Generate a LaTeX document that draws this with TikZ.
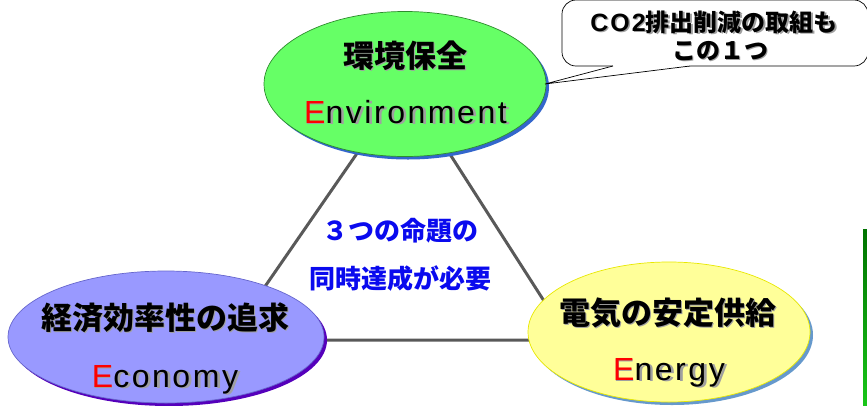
\documentclass[tikz,border=0pt]{standalone}
\usepackage{fontspec}
\setmainfont{Liberation Sans}
\newfontfamily\jp{Noto Sans CJK JP}
\newfontfamily\latb{Liberation Sans}[UprightFont=*-Bold,LetterSpace=8]
\newfontfamily\lat{Liberation Sans}[LetterSpace=8]
\usetikzlibrary{shapes.geometric,shadows}
\definecolor{envfill}{HTML}{66FF66}
\definecolor{envline}{HTML}{2E8B2E}
\definecolor{envsh}{HTML}{3366CC}
\definecolor{ecofill}{HTML}{9999FF}
\definecolor{ecoline}{HTML}{6666CC}
\definecolor{ecosh}{HTML}{5500BB}
\definecolor{enefill}{HTML}{FFFF99}
\definecolor{eneline}{HTML}{E8E800}
\definecolor{enesh}{HTML}{6699CC}
\definecolor{triline}{HTML}{595959}
\definecolor{shgray}{HTML}{A0A0A0}
\definecolor{bluetxt}{HTML}{0A0AEE}
\newif\ifshd
\newcommand\RE{\ifshd E\else\textcolor{red}{E}\fi}
\newcommand\stext[4]{%
  \node[#3,text=shgray] (#1-s) at ([shift={(1.4,1.4)}]#2) {\shdtrue#4};
  \node[#3] (#1) at (#2) {#4};}
\tikzset{
  ell/.style={ellipse, inner sep=0pt, line width=0.7pt},
  jptext/.style={anchor=base, inner sep=0pt, font=\jp\bfseries\fontsize{31}{36}\selectfont},
  latext/.style={anchor=base, inner sep=0pt, font=\lat\fontsize{32}{36}\selectfont},
  bluetext/.style={anchor=base, inner sep=0pt, text=bluetxt, font=\jp\bfseries\fontsize{26}{30}\selectfont},
  calltext/.style={anchor=base, inner sep=0pt, font=\jp\bfseries\fontsize{24}{28}\selectfont},
  triedge/.style={draw=triline, line width=3pt},
}
\begin{document}
\begin{tikzpicture}[x=1pt,y=-1pt]
\useasboundingbox (0,0) rectangle (867,405);
% triangle
\coordinate (t) at (405,84);
\coordinate (bl) at (228,340);
\coordinate (br) at (569,340);
\draw[triedge] (t) -- (bl) -- (br) -- cycle;
% ellipses
\node[ell, draw=envline, fill=envfill, minimum width=282pt, minimum height=145pt,
  drop shadow={shadow xshift=3pt, shadow yshift=-3pt, fill=envsh, opacity=1}] (env) at (405,84) {};
\node[ell, draw=ecoline, fill=ecofill, minimum width=316pt, minimum height=132pt,
  drop shadow={shadow xshift=3pt, shadow yshift=-3pt, fill=ecosh, opacity=1}] (eco) at (166,337) {};
\node[ell, draw=eneline, fill=enefill, minimum width=282pt, minimum height=140pt,
  drop shadow={shadow xshift=3pt, shadow yshift=-3pt, fill=enesh, opacity=1}] (ene) at (669,332) {};
% texts
\stext{envj}{405,67}{jptext}{環境保全}
\stext{envl}{405.5,123}{latext}{\RE nvironment}
\stext{ecoj}{165,329}{jptext}{経済効率性の追求}
\stext{ecol}{165,387}{latext}{\RE conomy}
\stext{enej}{668,324}{jptext}{電気の安定供給}
\stext{enel}{669,380}{latext}{\RE nergy}
\node[bluetext] (b1) at (400,240) {３つの命題の};
\node[bluetext] (b2) at (400,288) {同時達成が必要};
% callout
\node[draw, fill=white, rounded corners=14pt, line width=0.7pt, minimum width=306pt, minimum height=66pt, inner sep=0pt] (call) at (715,33) {};
\coordinate (tip) at (545,84);
\coordinate (ta) at (613,66);
\coordinate (tb) at (690,66);
\fill[white] (tip) -- (ta) -- (613,62) -- (690,62) -- (tb) -- cycle;
\draw[line width=0.7pt] (ta) -- (tip) -- (tb);
\stext{c1}{714,31}{calltext}{{\latb\fontsize{25}{28}\selectfont CO2}排出削減の取組も}
\stext{c2}{720,59}{calltext}{この１つ}
% green strip at right edge
\shade[top color=green!45!black, bottom color=green!75!black!90] (863,229) rectangle (867,405);
\end{tikzpicture}
\end{document}
